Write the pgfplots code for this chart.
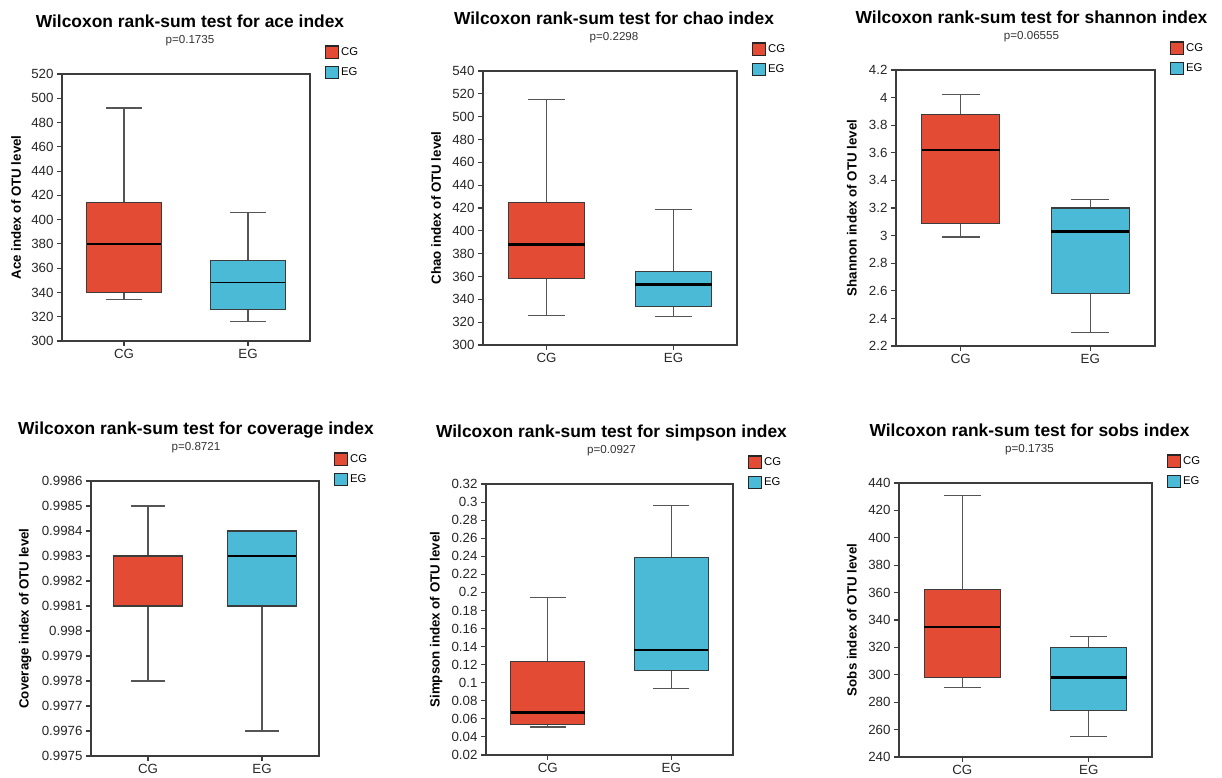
\documentclass[border=0pt]{standalone}
\usepackage{fontspec}
\setmainfont{Liberation Sans}
\usepackage{pgfplots}
\pgfplotsset{compat=1.18}
\usepgfplotslibrary{statistics}
\definecolor{cgred}{HTML}{E34B35}
\definecolor{egblue}{HTML}{4BBAD6}
\definecolor{linegray}{HTML}{555555}
\definecolor{axgray}{HTML}{3C3C3C}

\tikzset{
  titlenode/.style={font=\bfseries\fontsize{17.4}{20}\selectfont, anchor=base},
  pnode/.style={font=\fontsize{11.6}{13}\selectfont, text=black!80, anchor=base},
}
\pgfplotsset{
  panel/.style={
    scale only axis,
    clip=false,
    xmin=0.5, xmax=2.5,
    xtick={1,2}, xticklabels={CG,EG},
    tick pos=left, tick align=outside,
    major tick length=5pt,
    every tick/.style={draw=axgray, line width=1.1pt},
    axis line style={draw=axgray, line width=1.2pt},
    ticklabel style={font=\fontsize{13.3}{14}\selectfont, text=black!85},
    scaled y ticks=false,
    ylabel style={font=\bfseries\fontsize{13.3}{14}\selectfont, anchor=center},
    legend style={draw=none, fill=none, at={(1,1)}, anchor=north west,
      xshift=15pt, yshift=28.5pt, inner sep=0pt, outer sep=0pt,
      row sep=6.5pt, column sep=1.5pt,
      nodes={inner sep=1pt, font=\fontsize{11.3}{12}\selectfont}},
    legend cell align=left,
    legend image code/.code={\draw[##1, draw=black!85, line width=1.1pt] (0pt,-6.25pt) rectangle (12.5pt,6.25pt);},
    boxplot/draw direction=y,
  },
  bx/.style={forget plot, draw=axgray, line width=1.1pt,
    boxplot/box extend=0.6, boxplot/whisker extend=0.29,
    boxplot/every box/.style={draw=axgray, line width=1.1pt, fill=#1},
    boxplot/every whisker/.style={draw=linegray, line width=1.1pt},
  },
  med/.style={boxplot/every median/.style={draw=black, line width=#1}},
}

\begin{document}
\begin{tikzpicture}
\useasboundingbox (0pt,0pt) rectangle (1222pt,778pt);

% ---------- ace ----------
\begin{axis}[panel, med=1.4pt, at={(62pt,437pt)}, anchor=south west, width=248pt, height=267pt,
  ymin=300, ymax=520, ytick={300,320,340,360,380,400,420,440,460,480,500,520},
  yticklabels={300,320,340,360,380,400,420,440,460,480,500,520},
  ylabel={Ace index of OTU level}, ylabel style={at={(axis description cs:-0.1855,0.5)}}]
\addlegendimage{fill=cgred}\addlegendentry{CG}
\addlegendimage{fill=egblue}\addlegendentry{EG}
\addplot[bx=cgred, boxplot prepared={draw position=1, lower whisker=334, lower quartile=340, median=380, upper quartile=414, upper whisker=492}] coordinates {};
\addplot[bx=egblue, boxplot prepared={draw position=2, lower whisker=316, lower quartile=326, median=348, upper quartile=366, upper whisker=406}] coordinates {};
\node[titlenode, xshift=4pt, yshift=46pt] at (rel axis cs:0.5,1) {Wilcoxon rank-sum test for ace index};
\node[pnode, xshift=4pt, yshift=30pt] at (rel axis cs:0.5,1) {p=0.1735};
\end{axis}

% ---------- chao ----------
\begin{axis}[panel, med=2.2pt, at={(483pt,433pt)}, anchor=south west, width=254pt, height=274pt,
  ymin=300, ymax=540, ytick={300,320,340,360,380,400,420,440,460,480,500,520,540},
  yticklabels={300,320,340,360,380,400,420,440,460,480,500,520,540},
  ylabel={Chao index of OTU level}, ylabel style={at={(axis description cs:-0.185,0.5)}}]
\addlegendimage{fill=cgred}\addlegendentry{CG}
\addlegendimage{fill=egblue}\addlegendentry{EG}
\addplot[bx=cgred, boxplot prepared={draw position=1, lower whisker=326, lower quartile=358, median=388, upper quartile=425, upper whisker=515}] coordinates {};
\addplot[bx=egblue, boxplot prepared={draw position=2, lower whisker=325, lower quartile=334, median=353, upper quartile=364, upper whisker=419}] coordinates {};
\node[titlenode, xshift=4pt, yshift=46pt] at (rel axis cs:0.5,1) {Wilcoxon rank-sum test for chao index};
\node[pnode, xshift=4pt, yshift=30pt] at (rel axis cs:0.5,1) {p=0.2298};
\end{axis}

% ---------- shannon ----------
\begin{axis}[panel, med=2.2pt, at={(896pt,432pt)}, anchor=south west, width=259pt, height=276pt,
  ymin=2.2, ymax=4.2, ytick={2.2,2.4,2.6,2.8,3,3.2,3.4,3.6,3.8,4,4.2},
  yticklabels={2.2,2.4,2.6,2.8,3,3.2,3.4,3.6,3.8,4,4.2},
  ylabel={Shannon index of OTU level}, ylabel style={at={(axis description cs:-0.170,0.5)}}]
\addlegendimage{fill=cgred}\addlegendentry{CG}
\addlegendimage{fill=egblue}\addlegendentry{EG}
\addplot[bx=cgred, boxplot prepared={draw position=1, lower whisker=2.99, lower quartile=3.09, median=3.62, upper quartile=3.88, upper whisker=4.02}] coordinates {};
\addplot[bx=egblue, boxplot prepared={draw position=2, lower whisker=2.30, lower quartile=2.58, median=3.03, upper quartile=3.20, upper whisker=3.26}] coordinates {};
\node[titlenode, xshift=6pt, yshift=46pt] at (rel axis cs:0.5,1) {Wilcoxon rank-sum test for shannon index};
\node[pnode, xshift=6pt, yshift=30pt] at (rel axis cs:0.5,1) {p=0.06555};
\end{axis}

% ---------- coverage ----------
\begin{axis}[panel, med=1.2pt, at={(91pt,22pt)}, anchor=south west, width=228pt, height=275pt,
  ymin=0.9975, ymax=0.9986,
  ytick={0.9975,0.9976,0.9977,0.9978,0.9979,0.998,0.9981,0.9982,0.9983,0.9984,0.9985,0.9986},
  yticklabels={0.9975,0.9976,0.9977,0.9978,0.9979,0.998,0.9981,0.9982,0.9983,0.9984,0.9985,0.9986},
  ylabel={Coverage index of OTU level}, ylabel style={at={(axis description cs:-0.289,0.5)}}]
\addlegendimage{fill=cgred}\addlegendentry{CG}
\addlegendimage{fill=egblue}\addlegendentry{EG}
\addplot[bx=cgred, boxplot/every median/.style={draw=axgray, line width=1.1pt}, boxplot prepared={draw position=1, lower whisker=0.9978, lower quartile=0.9981, median=0.9983, upper quartile=0.9983, upper whisker=0.9985}] coordinates {};
\addplot[bx=egblue, boxplot prepared={draw position=2, lower whisker=0.9976, lower quartile=0.9981, median=0.9983, upper quartile=0.9984, upper whisker=0.9984}] coordinates {};
\node[titlenode, xshift=-9pt, yshift=46pt] at (rel axis cs:0.5,1) {Wilcoxon rank-sum test for coverage index};
\node[pnode, xshift=-9pt, yshift=30pt] at (rel axis cs:0.5,1) {p=0.8721};
\end{axis}

% ---------- simpson ----------
\begin{axis}[panel, med=2.2pt, at={(486pt,23pt)}, anchor=south west, width=247pt, height=271pt,
  ymin=0.02, ymax=0.32,
  ytick={0.02,0.04,0.06,0.08,0.1,0.12,0.14,0.16,0.18,0.2,0.22,0.24,0.26,0.28,0.3,0.32},
  yticklabels={0.02,0.04,0.06,0.08,0.1,0.12,0.14,0.16,0.18,0.2,0.22,0.24,0.26,0.28,0.3,0.32},
  ylabel={Simpson index of OTU level}, ylabel style={at={(axis description cs:-0.202,0.5)}}]
\addlegendimage{fill=cgred}\addlegendentry{CG}
\addlegendimage{fill=egblue}\addlegendentry{EG}
\addplot[bx=cgred, boxplot prepared={draw position=1, lower whisker=0.051, lower quartile=0.054, median=0.067, upper quartile=0.124, upper whisker=0.194}] coordinates {};
\addplot[bx=egblue, boxplot prepared={draw position=2, lower whisker=0.094, lower quartile=0.114, median=0.136, upper quartile=0.239, upper whisker=0.296}] coordinates {};
\node[titlenode, xshift=2pt, yshift=46pt] at (rel axis cs:0.5,1) {Wilcoxon rank-sum test for simpson index};
\node[pnode, xshift=2pt, yshift=30pt] at (rel axis cs:0.5,1) {p=0.0927};
\end{axis}

% ---------- sobs ----------
\begin{axis}[panel, med=2.2pt, at={(899pt,21pt)}, anchor=south west, width=253pt, height=274pt,
  ymin=240, ymax=440, ytick={240,260,280,300,320,340,360,380,400,420,440},
  yticklabels={240,260,280,300,320,340,360,380,400,420,440},
  ylabel={Sobs index of OTU level}, ylabel style={at={(axis description cs:-0.186,0.5)}}]
\addlegendimage{fill=cgred}\addlegendentry{CG}
\addlegendimage{fill=egblue}\addlegendentry{EG}
\addplot[bx=cgred, boxplot prepared={draw position=1, lower whisker=291, lower quartile=298, median=335, upper quartile=362, upper whisker=431}] coordinates {};
\addplot[bx=egblue, boxplot prepared={draw position=2, lower whisker=255, lower quartile=274, median=298, upper quartile=320, upper whisker=328}] coordinates {};
\node[titlenode, xshift=4pt, yshift=46pt] at (rel axis cs:0.5,1) {Wilcoxon rank-sum test for sobs index};
\node[pnode, xshift=4pt, yshift=30pt] at (rel axis cs:0.5,1) {p=0.1735};
\end{axis}
\end{tikzpicture}
\end{document}
